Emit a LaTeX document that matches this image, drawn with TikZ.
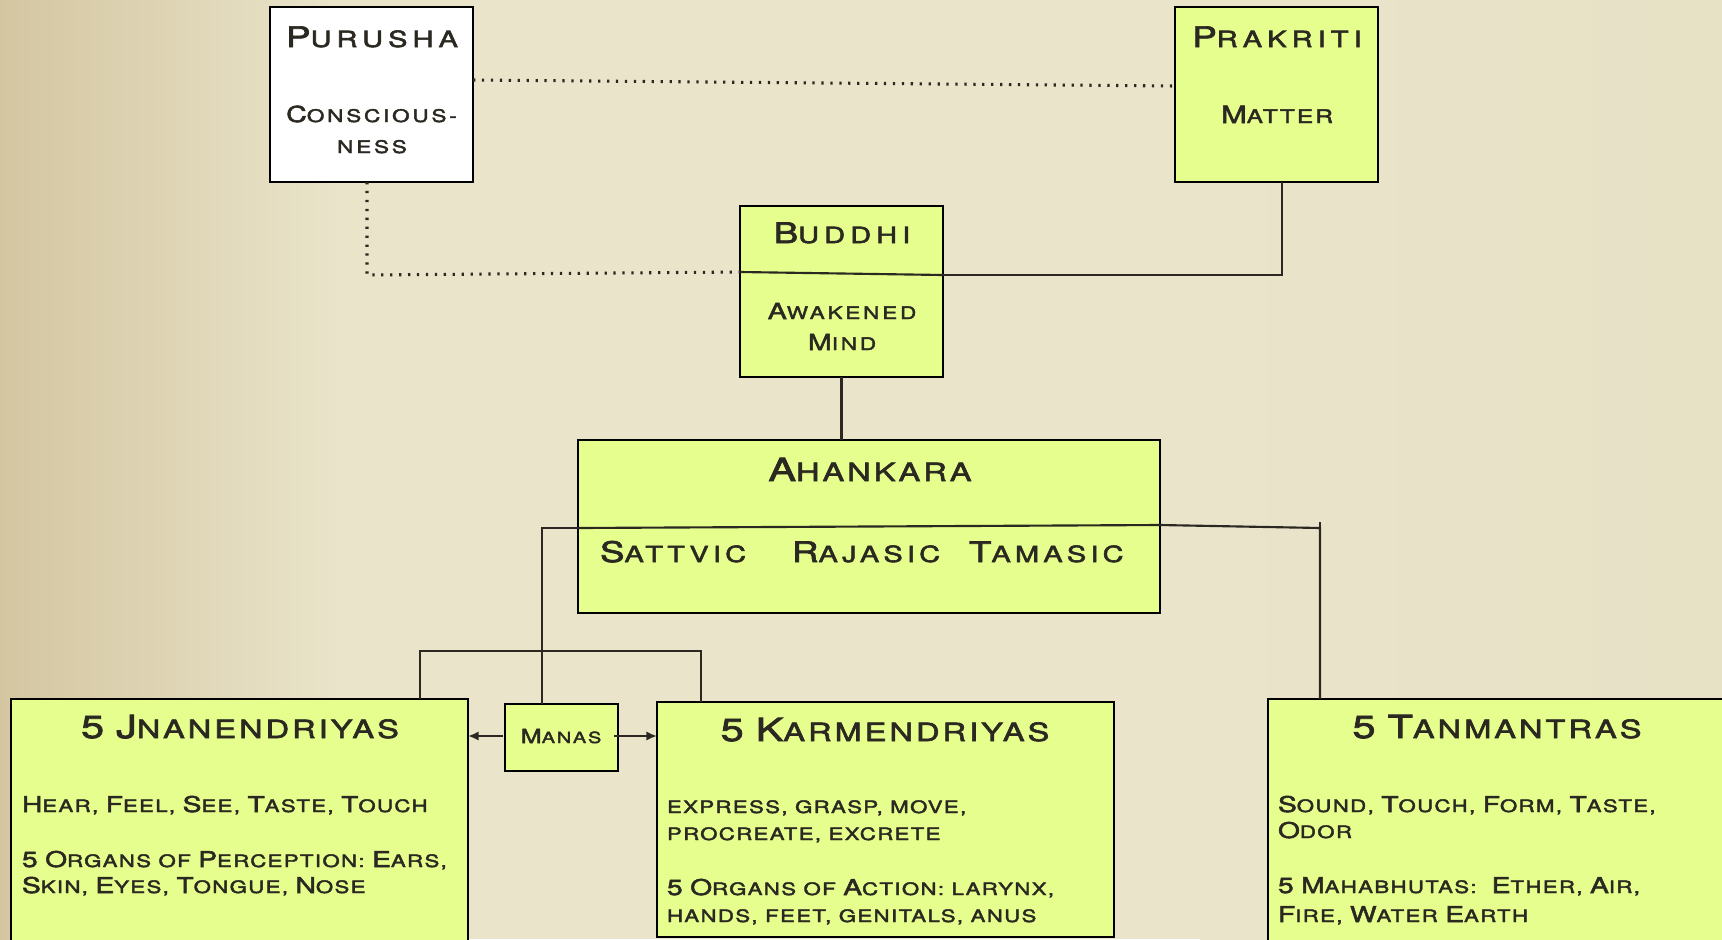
\documentclass[tikz,border=0pt]{standalone}
\usepackage{fontspec}
\usepackage{graphicx}
\setmainfont{TeX Gyre Heros}[FakeStretch=1.3,LetterSpace=8,FakeBold=2.5]
\usetikzlibrary{arrows.meta}
\newcommand\C[1]{\scalebox{1.27}{#1}}
\definecolor{bgL}{HTML}{D4C6A1}
\definecolor{bgM}{HTML}{E9E4CA}
\definecolor{bgR}{HTML}{E7E2C6}
\definecolor{boxfill}{HTML}{E5FE8E}
\definecolor{ink}{HTML}{2A2820}
\begin{document}
\begin{tikzpicture}[x=0.75pt,y=-0.75pt,
  box/.style={draw=black,line width=2.2pt,fill=boxfill,inner sep=0pt,outer sep=0pt},
  conn/.style={draw=ink,line width=1.6pt},
  dotline/.style={draw=ink,line width=2.3pt,dash pattern=on 1.7pt off 5pt},
  txt/.style={text=ink,inner sep=0pt,outer sep=0pt},
  ttl/.style={txt,anchor=base,font=\fontsize{16.7}{20}\selectfont\addfontfeature{LetterSpace=23}},
  aha/.style={txt,anchor=base,font=\fontsize{18.8}{22}\selectfont\addfontfeature{LetterSpace=12}},
  guna/.style={txt,anchor=base west,font=\fontsize{16.7}{20}\selectfont\addfontfeature{LetterSpace=19}},
  bigttl/.style={txt,anchor=base,font=\fontsize{18.8}{22}\selectfont\addfontfeature{LetterSpace=12}},
  sub/.style={txt,anchor=base,font=\fontsize{13}{15}\selectfont\addfontfeature{LetterSpace=16}},
  body/.style={txt,anchor=base west,font=\fontsize{12.8}{15}\selectfont},
  arr/.style={conn,-{Latex[length=8pt,width=7pt]}}]
\useasboundingbox (0,0) rectangle (1722,939);
\clip (0,0) rectangle (1722,939);
% background
\fill[bgM] (0,0) rectangle (1722,939);
\shade[left color=bgL,right color=bgM] (0,0) rectangle (340,939);
\shade[left color=bgM,right color=bgR] (1200,0) rectangle (1722,939);

% boxes
\node[box,fill=white,minimum width=203*0.75pt,minimum height=175*0.75pt] (purusha) at (371.5,94.5) {};
\node[box,minimum width=203*0.75pt,minimum height=175*0.75pt] (prakriti) at (1276.5,94.5) {};
\node[box,minimum width=203*0.75pt,minimum height=171*0.75pt] (buddhi) at (841.5,291.5) {};
\node[box,minimum width=582*0.75pt,minimum height=173*0.75pt] (ahankara) at (869,526.5) {};
\node[box,minimum width=113*0.75pt,minimum height=67*0.75pt] (manas) at (561.5,737.5) {};
\node[box,minimum width=457*0.75pt,minimum height=261*0.75pt] (jnan) at (239.5,829.5) {};
\node[box,minimum width=457*0.75pt,minimum height=235*0.75pt] (karm) at (885.5,819.5) {};
\node[box,minimum width=460*0.75pt,minimum height=261*0.75pt] (tanm) at (1498,829.5) {};

% coordinates for junctions
\coordinate (bdL) at (740,272);
\coordinate (bdR) at (943,275);
\coordinate (bdE) at (1282,275);
\coordinate (adL) at (578,528);
\coordinate (adR) at (1160,525);
\coordinate (adE) at (1320,528);
\coordinate (adW) at (542,528);
\coordinate (pu1) at (367,275);
\coordinate (brL) at (420,651);
\coordinate (brR) at (701,651);

% dividers inside boxes
\draw[conn] (bdL) -- (bdR);
\draw[conn] (adL) -- (adR);

% connectors
\draw[dotline] (purusha.east |- 0,80) -- (prakriti.west |- 0,86);
\draw[dotline] (purusha.south -| pu1) -- (pu1) -- (bdL);
\draw[conn] (bdR) -- (bdE) -- (prakriti.south -| bdE);
\draw[conn] (buddhi.south) -- (buddhi.south |- ahankara.north);
\draw[conn] (adR) -- (adE) -- (tanm.north -| adE);
\draw[conn] (adE) -- ++(0,-6);
\draw[conn] (adL) -- (adW) -- (manas.north -| adW);
\draw[conn] (jnan.north -| brL) -- (brL) -- (brR) -- (karm.north -| brR);
\draw[arr] (manas.west |- 0,736) ++(-2,0) -- (jnan.east |- 0,736);
\draw[arr] (manas.east |- 0,736) ++(-4,0) -- (karm.west |- 0,736);

% texts
\node[ttl] (tPur) at (372,47) {\C{P}URUSHA};
\node[sub] (tPur2) at (371.5,122) {\C{C}ONSCIOUS-};
\node[sub] (tPur3) at (372,153) {NESS};
\node[ttl] (tPra) at (1277,47) {\C{P}RAKRITI};
\node[sub,font=\fontsize{14}{16}\selectfont\addfontfeature{LetterSpace=12}] (tPra2) at (1277,123) {\C{M}ATTER};
\node[ttl] (tBud) at (842,243) {\C{B}UDDHI};
\node[sub] (tBud2) at (842,319) {\C{A}WAKENED};
\node[sub] (tBud3) at (842,350) {\C{M}IND};
\node[aha] (tAha) at (870,481) {\C{A}HANKARA};
\node[guna] (tSat) at (600,562) {\C{S}ATTVIC};
\node[guna] (tRaj) at (792,562) {\C{R}AJASIC};
\node[guna] (tTam) at (969,562) {\C{T}AMASIC};
\node[sub,font=\fontsize{11.5}{14}\selectfont\addfontfeature{LetterSpace=12}] (tMan) at (561,743) {\C{M}ANAS};

\node[bigttl] (tJn) at (240,738) {\C{5} \C{J}NANENDRIYAS};
\node[body] (tJn1) at (22,812) {\C{H}EAR, \C{F}EEL, \C{S}EE, \C{T}ASTE, \C{T}OUCH};
\node[body] (tJn2) at (22,867) {\C{5} \C{O}RGANS OF \C{P}ERCEPTION: \C{E}ARS,};
\node[body] (tJn3) at (22,893) {\C{S}KIN, \C{E}YES, \C{T}ONGUE, \C{N}OSE};

\node[bigttl] (tKa) at (885,741) {\C{5} \C{K}ARMENDRIYAS};
\node[body] (tKa1) at (667,813) {EXPRESS, GRASP, MOVE,};
\node[body] (tKa2) at (667,840) {PROCREATE, EXCRETE};
\node[body] (tKa3) at (667,895) {\C{5} \C{O}RGANS OF \C{A}CTION: LARYNX,};
\node[body] (tKa4) at (667,922) {HANDS, FEET, GENITALS, ANUS};

\node[bigttl] (tTa) at (1497,738) {\C{5} \C{T}ANMANTRAS};
\node[body] (tTa1) at (1278,812) {\C{S}OUND, \C{T}OUCH, \C{F}ORM, \C{T}ASTE,};
\node[body] (tTa2) at (1278,838) {\C{O}DOR};
\node[body] (tTa3) at (1278,893) {\C{5} \C{M}AHABHUTAS:~ \C{E}THER, \C{A}IR,};
\node[body] (tTa4) at (1278,922) {\C{F}IRE, \C{W}ATER \C{E}ARTH};
\end{tikzpicture}
\end{document}
